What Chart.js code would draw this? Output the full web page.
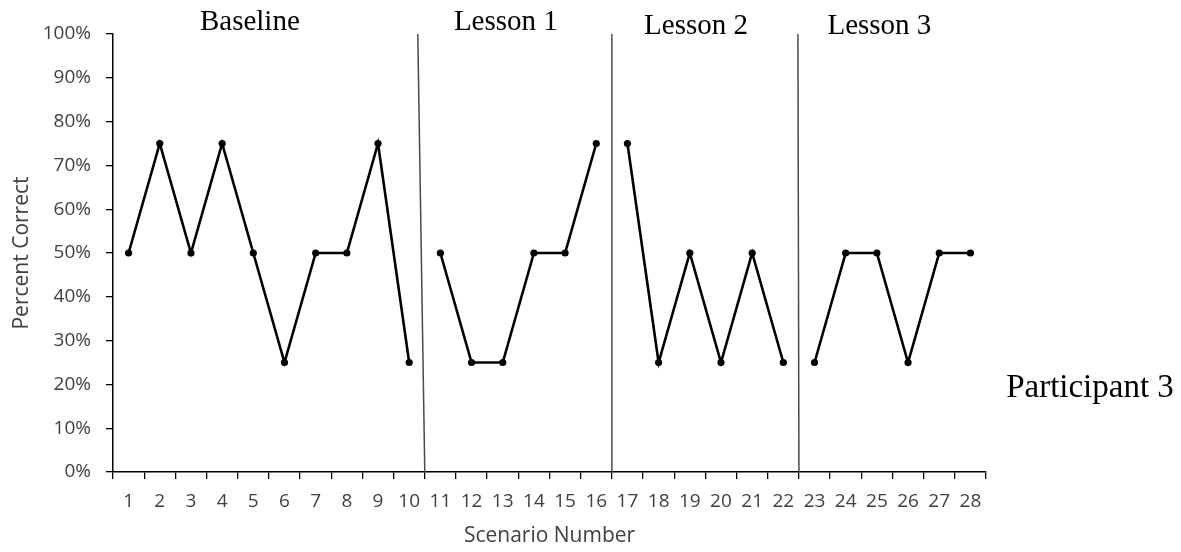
<!DOCTYPE html>
<html>
<head>
<meta charset="utf-8">
<script src="https://cdn.jsdelivr.net/npm/chart.js@4/dist/chart.umd.min.js"></script>
<style>
html,body{margin:0;padding:0;background:#fff;}
#wrap{width:1181px;height:552px;position:relative;}
</style>
</head>
<body>
<div id="wrap"><canvas id="c" width="1181" height="552"></canvas></div>
<script>
// ---- data ----
const categories = ['1','2','3','4','5','6','7','8','9','10','11','12','13','14','15','16','17','18','19','20','21','22','23','24','25','26','27','28'];
const baselineValues = [50,75,50,75,50,25,50,50,75,25];
const lesson1Values = [50,25,25,50,50,75];
const lesson2Values = [75,25,50,25,50,25];
const lesson3Values = [25,50,50,25,50,50];
const phaseNames = ['Baseline','Lesson 1','Lesson 2','Lesson 3'];
const yTickValues = [0,10,20,30,40,50,60,70,80,90,100];
const participantLabel = 'Participant 3';
const xTitle = 'Scenario Number';
const yTitle = 'Percent Correct';

const phases = [baselineValues, lesson1Values, lesson2Values, lesson3Values];

// build one dataset per phase, padded with nulls so lines break between phases
const datasets = [];
let start = 0;
const boundaries = [];
phases.forEach((vals, p) => {
  const arr = categories.map(() => null);
  vals.forEach((v, i) => { arr[start + i] = v; });
  datasets.push({
    label: phaseNames[p],
    data: arr,
    borderColor: '#000',
    backgroundColor: '#000',
    borderWidth: 2.6,
    pointRadius: 3.6,
    pointBorderWidth: 0,
    pointBackgroundColor: '#000',
    spanGaps: false,
    tension: 0
  });
  start += vals.length;
  if (p < phases.length - 1) boundaries.push(start - 1);
});

// header placement (category index) and style
const headerStyle = [
  {at: 3.89, base: 30},
  {at: 12.1, base: 30},
  {at: 18.2, base: 34},
  {at: 24.08, base: 34}
];
const lineSlant = [-7, 0, -1];

const phasePlugin = {
  id: 'phases',
  afterDatasetsDraw(chart) {
    const {ctx, chartArea, scales} = chart;
    const x = scales.x;
    ctx.save();
    ctx.strokeStyle = '#4a4a4a';
    ctx.lineWidth = 1.5;
    boundaries.forEach((b, k) => {
      const px = (x.getPixelForValue(b) + x.getPixelForValue(b + 1)) / 2;
      ctx.beginPath();
      ctx.moveTo(px + lineSlant[k], chartArea.top);
      ctx.lineTo(px, chartArea.bottom);
      ctx.stroke();
    });
    ctx.fillStyle = '#000';
    ctx.font = '29px "Liberation Serif", "Times New Roman", serif';
    ctx.textAlign = 'center';
    ctx.textBaseline = 'alphabetic';
    phaseNames.forEach((name, k) => {
      const hs = headerStyle[k];
      const px = x.getPixelForValue(hs.at);
      ctx.fillText(name, px, hs.base);
    });
    ctx.font = '33px "Liberation Serif", "Times New Roman", serif';
    ctx.textAlign = 'center';
    ctx.fillText(participantLabel, chartArea.right + 104, 397);
    ctx.restore();
  }
};

new Chart(document.getElementById('c'), {
  type: 'line',
  data: { labels: categories, datasets },
  options: {
    responsive: false,
    animation: false,
    layout: { padding: { left: 0, right: 195, top: 34, bottom: 0 } },
    plugins: { legend: { display: false }, tooltip: { enabled: false } },
    scales: {
      x: {
        offset: true,
        grid: { offset: true, drawOnChartArea: false, drawTicks: true, tickLength: 7, color: '#000', lineWidth: 1.3 },
        border: { color: '#000', width: 1.5 },
        ticks: { color: '#404040', font: { family: '"Open Sans", sans-serif', size: 19 }, padding: 11, maxRotation: 0, autoSkip: false },
        title: { display: true, text: xTitle, color: '#404040', font: { family: '"Open Sans", sans-serif', size: 21 }, padding: { top: 0, bottom: 3 } },
        afterFit(scale) { scale.height = 80; }
      },
      y: {
        min: 0, max: 100,
        afterBuildTicks(scale) { scale.ticks = yTickValues.map(v => ({ value: v })); },
        grid: { drawOnChartArea: false, drawTicks: true, tickLength: 7, color: '#000', lineWidth: 1.3 },
        border: { color: '#000', width: 1.5 },
        ticks: { color: '#404040', font: { family: '"Open Sans", sans-serif', size: 19 }, padding: 15, callback: v => v + '%' },
        title: { display: true, text: yTitle, color: '#404040', font: { family: '"Open Sans", sans-serif', size: 21 }, padding: { top: 9, bottom: 0 } },
        afterFit(scale) { scale.width = 113; }
      }
    }
  },
  plugins: [phasePlugin]
});
</script>
</body>
</html>
